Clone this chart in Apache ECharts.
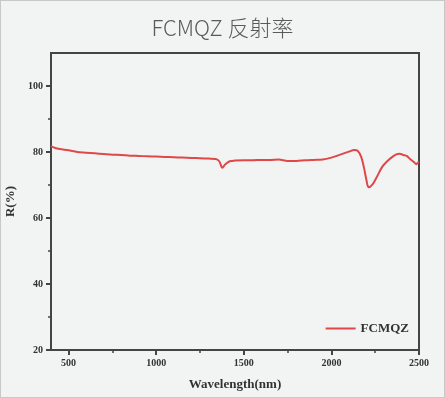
<!DOCTYPE html>
<html><head><meta charset="utf-8">
<script src="https://cdn.jsdelivr.net/npm/echarts@6/dist/echarts.min.js"></script>
<style>
html,body{margin:0;padding:0;background:#f2f3f3;}
#c{width:443px;height:396px;border:1px solid #c8c8c8;background:#f2f3f3;}
</style></head>
<body><div id="c"></div>
<script>
const wavelength = [400,425,450,500,550,600,650,700,750,800,850,900,950,1000,1050,1100,1150,1200,1250,1300,1340,1360,1378,1395,1420,1450,1500,1550,1600,1650,1700,1750,1800,1850,1900,1950,2000,2050,2100,2130,2150,2170,2185,2200,2212,2235,2260,2290,2320,2350,2370,2390,2410,2430,2450,2470,2485,2495,2500];
const reflectance = [81.8,81.2,80.9,80.5,80.0,79.8,79.6,79.4,79.2,79.1,78.9,78.8,78.7,78.6,78.5,78.4,78.3,78.2,78.1,78.0,77.9,77.2,75.2,76.3,77.2,77.4,77.5,77.5,77.6,77.6,77.7,77.3,77.3,77.5,77.6,77.7,78.3,79.2,80.1,80.6,80.4,78.5,75.5,71.5,69.3,70.2,72.5,75.5,77.3,78.6,79.3,79.5,79.1,78.8,77.8,77.0,76.3,76.8,77.0];
const xMajorTicks = [500,1000,1500,2000,2500];
const xMinorTicks = [750,1250,1750,2250];
const yTicks = [20,40,60,80,100];
const seriesName = 'FCMQZ';
const titleText = 'FCMQZ 反射率';

const chart = echarts.init(document.getElementById('c'));
const serif = '"Liberation Serif","DejaVu Serif",serif';
const axisColor = '#444';
const plain = v => String(v);
chart.setOption({
  backgroundColor:'#f2f3f3',
  animation:false,
  title:{text:titleText, left:'center', top:11, textStyle:{fontFamily:'"Noto Sans CJK SC","Noto Sans",sans-serif', fontWeight:300, fontSize:22, color:'#5a5a5a'}},
  legend:{data:[seriesName], right:30, top:316, itemWidth:30, itemHeight:2, itemGap:4, icon:'rect',
    textStyle:{fontFamily:serif, fontWeight:'bold', fontSize:13, color:'#333'}},
  grid:{left:50, right:25, top:52, bottom:47, show:true, borderColor:axisColor, borderWidth:2, outerBoundsMode:'none', containLabel:false},
  xAxis:[{
    type:'value', min:400, max:2500,
    name:'Wavelength(nm)', nameLocation:'middle', nameGap:28,
    nameTextStyle:{fontFamily:serif, fontWeight:'bold', fontSize:13, color:'#333'},
    axisLine:{show:true, lineStyle:{color:axisColor, width:2}},
    axisTick:{show:true, length:5, lineStyle:{color:axisColor, width:2}, customValues:xMajorTicks},
    axisLabel:{fontFamily:serif, fontWeight:'bold', fontSize:10, color:'#333', margin:8, customValues:xMajorTicks, formatter:plain},
    splitLine:{show:false}
  },{
    type:'value', min:400, max:2500, position:'bottom',
    axisLine:{show:false},
    axisTick:{show:true, length:3, lineStyle:{color:axisColor, width:1.5}, customValues:xMinorTicks},
    axisLabel:{show:false},
    splitLine:{show:false}
  }],
  yAxis:{
    type:'value', min:20, max:110, interval:20,
    name:'R(%)', nameLocation:'middle', nameGap:29, nameRotate:90,
    nameTextStyle:{fontFamily:serif, fontWeight:'bold', fontSize:13, color:'#333'},
    axisLine:{show:true, lineStyle:{color:axisColor, width:2}},
    axisTick:{show:true, length:5, lineStyle:{color:axisColor, width:2}, customValues:yTicks},
    minorTick:{show:true, splitNumber:2, length:3, lineStyle:{color:axisColor, width:1.5}},
    axisLabel:{fontFamily:serif, fontWeight:'bold', fontSize:10, color:'#333', margin:8, customValues:yTicks, formatter:plain},
    splitLine:{show:false}
  },
  series:[{
    name:seriesName, type:'line', showSymbol:false, smooth:0.3,
    lineStyle:{color:'#e04848', width:2}, itemStyle:{color:'#e04848'},
    data:wavelength.map((w,i)=>[w,reflectance[i]])
  }]
});
</script></body></html>
